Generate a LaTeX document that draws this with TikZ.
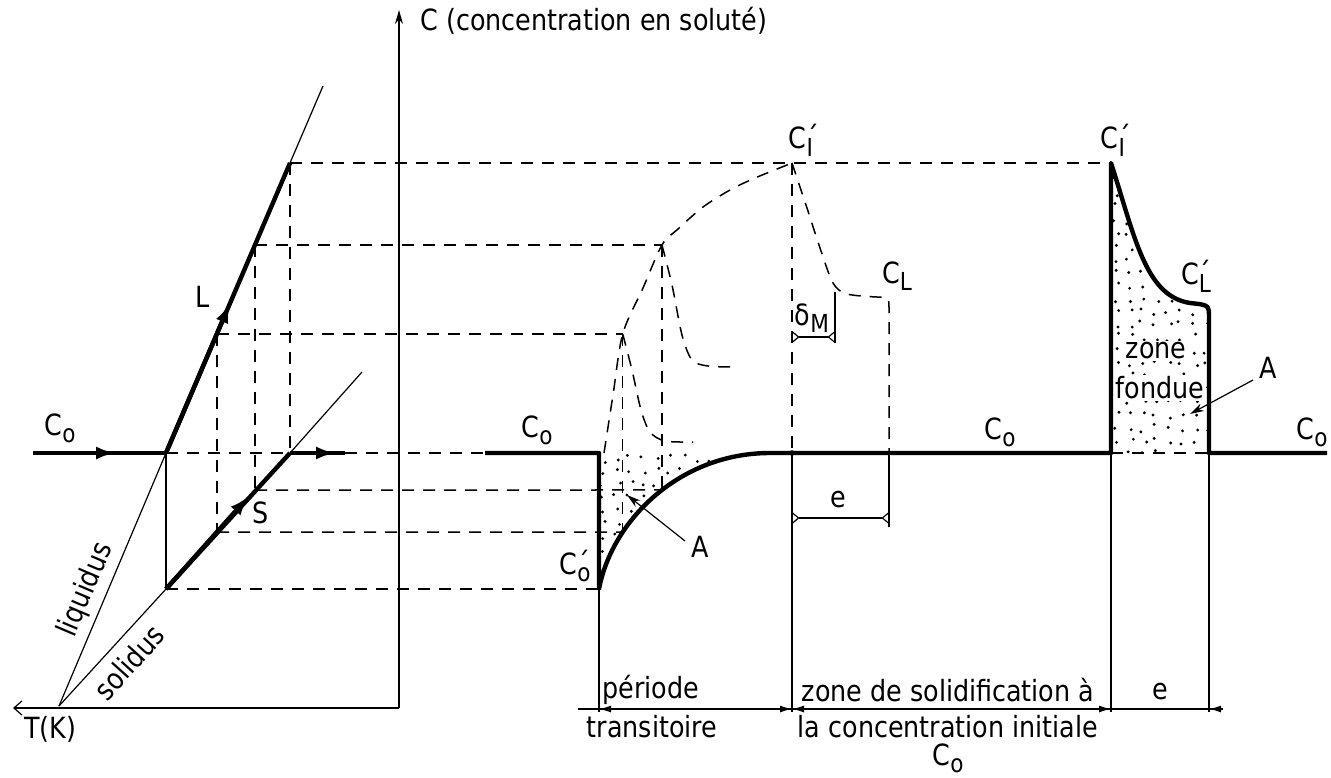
\documentclass[tikz,border=0pt]{standalone}
\usepackage{fontspec}
\setmainfont{DejaVu Sans}[FakeStretch=0.87]
\usetikzlibrary{arrows.meta,intersections}
\newcommand\lsub[1]{\raisebox{-0.45ex}{\scalebox{0.85}{#1}}}
\newcommand\cacute{C\rlap{\raisebox{0.1ex}{´}}}
\begin{document}
\begin{tikzpicture}[x=0.5pt,y=-0.5pt,
  thinl/.style={line width=0.6pt},
  thickl/.style={line width=2.2pt,line join=round},
  dashl/.style={line width=0.75pt,dash pattern=on 6pt off 4.5pt},
  lbl/.style={font=\fontsize{14.6}{17}\selectfont,inner sep=0pt},
  headtip/.style={thickl,-{Latex[length=10pt,width=6.5pt]}},
  dimtip/.style={thinl,-{Latex[length=6pt,width=3.5pt]}},
  bartips/.style={thinl,{Straight Barb[reversed,length=3pt,width=5pt]}-{Straight Barb[reversed,length=3pt,width=5pt]}},
  stip/.style={fill=black}
]
\useasboundingbox (0,0) rectangle (1331,777);
% ---------- left diagram coordinates
\coordinate (O) at (59,706);
\coordinate (Tend) at (13,708);
\coordinate (Cbot) at (399,708);
\coordinate (Ctop) at (399,10);
\coordinate (L0) at (166,453);
\coordinate (L1) at (217,334);
\coordinate (L2) at (255,245);
\coordinate (L3) at (290,163);
\coordinate (Ltop) at (323,86);
\coordinate (S0) at (166,589);
\coordinate (S1) at (217,532);
\coordinate (S2) at (255,490);
\coordinate (S3) at (290,453);
\coordinate (Stop) at (362,372);
\coordinate (C0a) at (33,453);
\coordinate (C0b) at (345,453);
\coordinate (arC0a) at (116,453);
\coordinate (arC0b) at (336,453);
\coordinate (arL) at (230,303);
\coordinate (arS) at (249,496);
% ---------- middle / right coordinates
\coordinate (M0) at (485,453);
\coordinate (Mv) at (599,453);
\coordinate (Mc) at (599,589);
\coordinate (Mf) at (770,453);
\coordinate (CI) at (792,163);
\coordinate (Cb) at (792,453);
\coordinate (CL) at (889,453);
\coordinate (R0) at (1111,453);
\coordinate (Rt) at (1111,163);
\coordinate (Rc) at (1190,303);
\coordinate (Rk) at (1209,318);
\coordinate (R1) at (1209,453);
\coordinate (Rend) at (1327,453);
% intersections for the transient construction
\path[name path=growth] (Mc) .. controls (612,520) and (680,453) .. (Mf);
\path[name path=h1] (500,532) -- (800,532);
\path[name path=h2] (500,490) -- (800,490);
\path[name intersections={of=growth and h1,by=P1}];
\path[name intersections={of=growth and h2,by=P2}];
\coordinate (pk1) at (P1 |- L1);
\coordinate (pk2) at (P2 |- L2);

% ---------- stipple
\begin{scope}
\clip (Mv) -- (Mc) .. controls (612,520) and (680,453) .. (Mf) -- cycle;
\pgfmathsetseed{11}
\foreach \i in {0,...,13}{\foreach \j in {0,...,10}{
  \pgfmathsetmacro{\xx}{604+\i*13+8*rnd-4}
  \pgfmathsetmacro{\yy}{459+\j*13+8*rnd-4}
  \fill[stip] (\xx,\yy) circle (0.8pt);}}
\end{scope}
\begin{scope}
\clip (R0) -- (Rt) .. controls (1135,237) and (1145,296) .. (Rc) .. controls (1209,305) .. (Rk) -- (R1) -- cycle;
\pgfmathsetseed{5}
\foreach \i in {0,...,7}{\foreach \j in {0,...,22}{
  \pgfmathsetmacro{\xx}{1117+\i*13+8*rnd-4}
  \pgfmathsetmacro{\yy}{168+\j*13+8*rnd-4}
  \fill[stip] (\xx,\yy) circle (0.8pt);}}
\end{scope}

% ---------- left diagram
\draw[thinl,-{Stealth[length=7pt,width=4pt]}] (Cbot) -- (Ctop);
\draw[thinl,-{Straight Barb[length=4pt,width=7pt]}] (Cbot) -- (Tend);
\draw[thinl] (O) -- (L0);
\draw[thickl] (L0) -- (L3);
\draw[headtip] (L0) -- (arL);
\draw[thinl] (L3) -- (Ltop);
\draw[thinl] (O) -- (S0);
\draw[thickl] (S0) -- (S3);
\draw[headtip] (S0) -- (arS);
\draw[thinl] (S3) -- (Stop);
\draw[thinl] (L0) -- (S0);
\draw[thickl] (C0a) -- (L0);
\draw[headtip] (C0a) -- (arC0a);
\draw[thickl] (S3) -- (C0b);
\draw[headtip] (S3) -- (arC0b);
\draw[dashl] (L0) -- (S3);
\draw[dashl] (C0b) -- (M0);
\draw[dashl] (L1) -- (S1);
\draw[dashl] (L2) -- (S2);
\draw[dashl] (L3) -- (S3);
% projections
\draw[dashl] (L3) -- (CI) -- (Rt);
\draw[dashl] (L2) -- (pk2);
\draw[dashl] (L1) -- (pk1);
\draw[dashl] (S2) -- (P2);
\draw[dashl] (S1) -- (P1);
\draw[dashl] (S0) -- (Mc);

% ---------- middle diagram dashed profiles
\draw[dashl] plot[smooth] coordinates {(604,453) (613,395) (pk1) (643,288) (pk2) (678,229) (703,207) (730,190) (755,178) (CI)};
\draw[dashl] plot[smooth] coordinates {(pk1) (632,370) (641,410) (650,432) (665,441) (693,442)};
\draw[dashl] plot[smooth] coordinates {(pk2) (672,285) (682,335) (692,360) (708,366) (735,367)};
\draw[dashl] plot[smooth] coordinates {(CI) (806,205) (820,248) (833,283) (847,294) (877,297)} .. controls (889,297) .. (889,310) -- (CL);
\draw[dashl] (pk1) -- (P1);
\draw[dashl] (pk2) -- (P2);
\draw[dashl] (CI) -- (Cb);
\draw[dashl] (R0) -- (R1);

% ---------- thick profile
\draw[thickl] (M0) -- (Mv) -- (Mc) .. controls (612,520) and (680,453) .. (Mf) -- (R0) -- (Rt)
  .. controls (1135,237) and (1145,296) .. (Rc) .. controls (1209,305) .. (Rk) -- (R1) -- (Rend);
\fill (Cb) circle (1.4pt);

% ---------- thin verticals and dimensions
\coordinate (Mbot) at (599,712);
\coordinate (Cbt) at (792,712);
\coordinate (R0b) at (1111,712);
\coordinate (R1b) at (1209,712);
\coordinate (CLb) at (889,527);
\draw[thinl] (Mc) -- (Mbot);
\draw[thinl] (Cb) -- (Cbt);
\draw[thinl] (R0) -- (R0b);
\draw[thinl] (R1) -- (R1b);
\draw[thinl] (CL) -- (CLb);
\coordinate (dM1) at (792,337);
\coordinate (dM2) at (835,337);
\coordinate (dMt) at (835,292);
\draw[thinl] (dMt) -- ([yshift=-3pt]dM2);
\draw[bartips] (dM1) -- (dM2);
\coordinate (e1) at (792,518);
\coordinate (e2) at (889,518);
\draw[bartips] (e1) -- (e2);
% bottom dimension line
\coordinate (B0) at (578,709);
\coordinate (B5) at (1223,709);
\draw[thinl] (B0) -- (B5);
\draw[dimtip] (625,709) -- (599,709);
\draw[dimtip] (765,709) -- (792,709);
\draw[dimtip] (818,709) -- (792,709);
\draw[dimtip] (1085,709) -- (1111,709);
\draw[dimtip] (1223,709) -- (1209,709);

% ---------- arrows to A
\draw[thinl,-{Stealth[length=7pt,width=4pt]}] (685,541) -- (627,495);
\draw[thinl,-{Stealth[length=7pt,width=4pt]}] (1253,380) -- (1190,414);

% ---------- labels
\node[lbl,anchor=west] (title) at (420,21) {C (concentration en soluté)};
\node[lbl] (TK) at (50,729) {T(K)};
\node[lbl] (c0l) at (60,428) {C\lsub{o}};
\node[lbl] (Llab) at (203,297) {L};
\node[lbl] (Slab) at (261,513) {S};
\node[lbl,rotate=67] (liq) at (86,590) {liquidus};
\node[lbl,rotate=48] (sol) at (129,662) {solidus};
\node[lbl] (c0m) at (537,430) {C\lsub{o}};
\node[lbl] (c0p) at (575,566) {\cacute\lsub{o}};
\node[lbl] (Am) at (700,547) {A};
\node[lbl] (CIm) at (801,140) {\cacute\lsub{I}};
\node[lbl] (CLm) at (897,276) {C\lsub{L}};
\node[lbl] (dMl) at (812,318) {δ\lsub{M}};
\node[lbl] (el) at (838,500) {e};
\node[lbl] (c0r) at (1000,432) {C\lsub{o}};
\node[lbl] (CIr) at (1113,140) {\cacute\lsub{I}};
\node[lbl] (CLr) at (1196,276) {\cacute\lsub{L}};
\node[lbl,fill=white,inner sep=1pt] (zone) at (1156,351) {zone};
\node[lbl,fill=white,inner sep=1pt] (fond) at (1160,388) {fondue};
\node[lbl] (Ar) at (1268,368) {A};
\node[lbl] (c0e) at (1312,432) {C\lsub{o}};
\node[lbl] (per) at (651,690) {période};
\node[lbl] (tra) at (652,727) {transitoire};
\node[lbl] (zs) at (948,690) {zone de solidification à};
\node[lbl] (lc) at (948,727) {la concentration initiale};
\node[lbl] (c0b) at (948,758) {C\lsub{o}};
\node[lbl] (eb) at (1160,692) {e};
\end{tikzpicture}
\end{document}
